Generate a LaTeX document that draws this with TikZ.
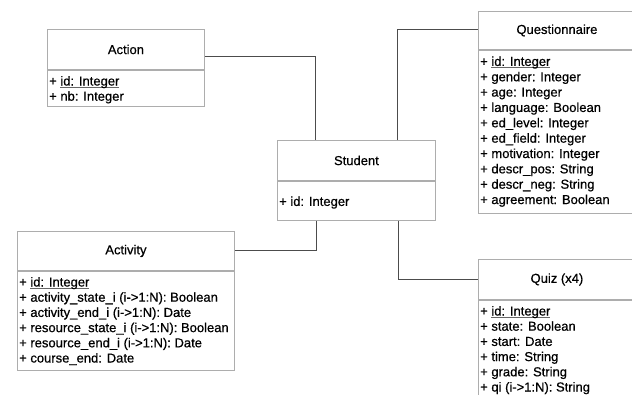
\documentclass[tikz,border=0pt]{standalone}
\usepackage{fontspec}
\setmainfont[FakeBold=0.6]{Liberation Sans}
\usetikzlibrary{calc}
\newlength\ulw
\newcommand\ulgray[1]{\settowidth\ulw{#1}\rlap{\textcolor{black!60}{\rule[-2.2pt]{\ulw}{0.7pt}}}#1}
\tikzset{
  boxline/.style={draw=black!32, line width=0.9pt},
  hdr/.style={boxline, rectangle, anchor=north west, inner sep=0pt, font=\fontsize{13}{15.4}\selectfont},
  bodybox/.style={boxline, rectangle, anchor=north west, inner sep=0pt},
  attr/.style={anchor=base west, inner sep=0pt, font=\fontsize{13}{15.4}\selectfont},
  conn/.style={draw=black!70, line width=0.9pt},
}
\begin{document}
\begin{tikzpicture}[x=1pt,y=-1pt]
\useasboundingbox (0,0) rectangle (632,394);
\clip (0,0) rectangle (632,394);
% Action
\node[hdr, minimum width=157pt, minimum height=40pt] (actionh) at (47,29) {Action};
\node[bodybox, minimum width=157pt, minimum height=36pt] (actionb) at (actionh.south west) {};
\foreach \t [count=\i, evaluate=\i as \yy using 15.6+(\i-1)*15.2] in {{\ulgray{id: Integer}}, {nb: Integer}}
  \node[attr] (actiona\i) at ($(actionb.north west)+(2,\yy)$) {+ \t};
% Student
\node[hdr, minimum width=158pt, minimum height=40pt] (studenth) at (277,140) {Student};
\node[bodybox, minimum width=158pt, minimum height=39pt] (studentb) at (studenth.south west) {};
\node[attr] (studenta1) at ($(studentb.north west)+(2,25)$) {+ id: Integer};
% Questionnaire
\node[hdr, minimum width=157pt, minimum height=38pt] (questh) at (478,11) {Questionnaire};
\node[bodybox, minimum width=157pt, minimum height=163pt] (questb) at (questh.south west) {};
\foreach \t [count=\i, evaluate=\i as \yy using 16+(\i-1)*15.35] in {{\ulgray{id: Integer}}, {gender: Integer}, {age: Integer}, {language: Boolean}, {ed\_level: Integer}, {ed\_field: Integer}, {motivation: Integer}, {descr\_pos: String}, {descr\_neg: String}, {agreement: Boolean}}
  \node[attr] (questa\i) at ($(questb.north west)+(2,\yy)$) {+ \t};
% Activity
\node[hdr, minimum width=217pt, minimum height=39pt] (activityh) at (17,231) {Activity};
\node[bodybox, minimum width=217pt, minimum height=99pt] (activityb) at (activityh.south west) {};
\foreach \t [count=\i, evaluate=\i as \yy using 15.6+(\i-1)*15.2] in {{\ulgray{id: Integer}}, {activity\_state\_i (i->1:N): Boolean}, {activity\_end\_i (i->1:N): Date}, {resource\_state\_i (i->1:N): Boolean}, {resource\_end\_i (i->1:N): Date}, {course\_end: Date}}
  \node[attr] (activitya\i) at ($(activityb.north west)+(2,\yy)$) {+ \t};
% Quiz
\node[hdr, minimum width=157pt, minimum height=40pt] (quizh) at (478,259) {Quiz (x4)};
\node[bodybox, minimum width=157pt, minimum height=110pt] (quizb) at (quizh.south west) {};
\foreach \t [count=\i, evaluate=\i as \yy using 15.6+(\i-1)*15.2] in {{\ulgray{id: Integer}}, {state: Boolean}, {start: Date}, {time: String}, {grade: String}, {qi (i->1:N): String}}
  \node[attr] (quiza\i) at ($(quizb.north west)+(2,\yy)$) {+ \t};
% connectors
\draw[conn] ([yshift=-27pt]actionh.north east) -| ([xshift=38pt]studenth.north west);
\draw[conn] ([xshift=120pt]studenth.north west) |- ([yshift=-18pt]questh.north west);
\draw[conn] ([xshift=39pt]studentb.south west) |- ([yshift=-19pt]activityh.north east);
\draw[conn] ([xshift=121pt]studentb.south west) |- ([yshift=-20pt]quizh.north west);
\end{tikzpicture}
\end{document}
